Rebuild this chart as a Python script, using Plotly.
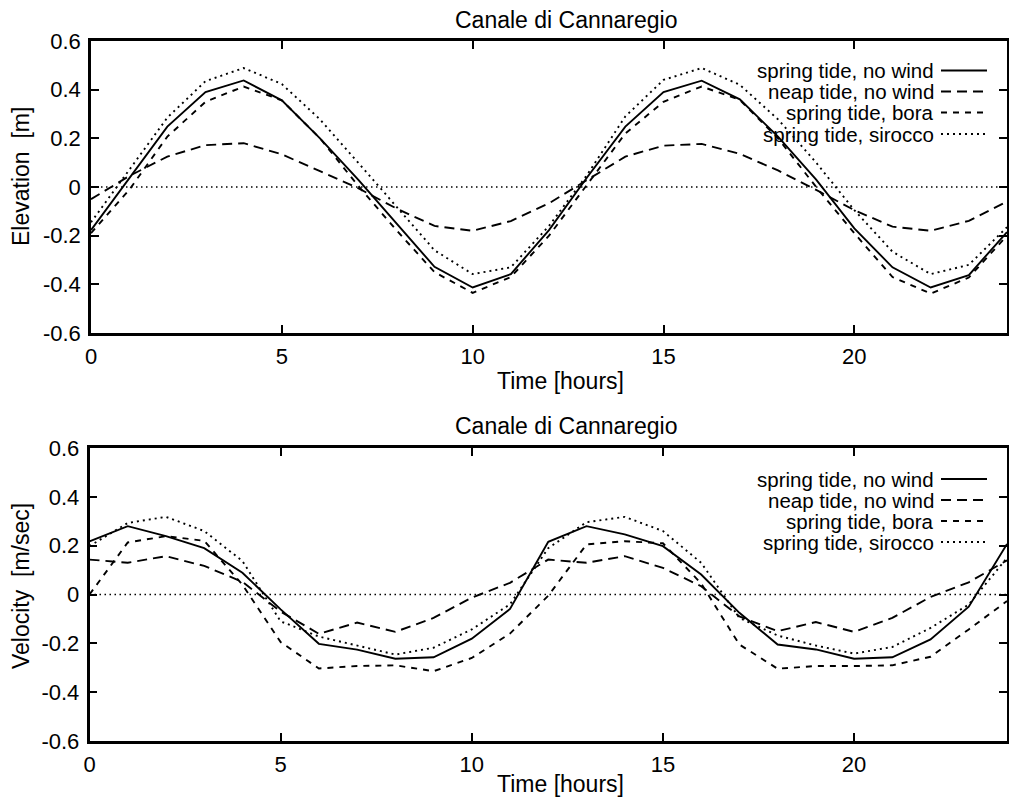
import plotly.graph_objects as go

W, H = 1009, 800

hours = list(range(25))
series_names = ["spring tide, no wind", "neap tide, no wind", "spring tide, bora", "spring tide, sirocco"]

# Elevation [m]
elev_spring_nowind = [-0.177, 0.036, 0.248, 0.39, 0.438, 0.356, 0.2, 0.03, -0.15, -0.328, -0.413, -0.358, -0.177,
                      0.04, 0.248, 0.39, 0.437, 0.36, 0.207, 0.03, -0.17, -0.33, -0.413, -0.362, -0.185]
elev_neap_nowind = [-0.05, 0.045, 0.125, 0.172, 0.18, 0.134, 0.065, -0.005, -0.088, -0.16, -0.18, -0.14, -0.067,
                    0.03, 0.125, 0.17, 0.177, 0.136, 0.068, -0.012, -0.095, -0.163, -0.18, -0.139, -0.06]
elev_spring_bora = [-0.19, -0.012, 0.207, 0.35, 0.413, 0.356, 0.2, 0.005, -0.177, -0.35, -0.435, -0.37, -0.2,
                    0.01, 0.22, 0.35, 0.413, 0.358, 0.2, 0.0, -0.19, -0.37, -0.438, -0.372, -0.2]
elev_spring_sirocco = [-0.145, 0.07, 0.285, 0.435, 0.489, 0.423, 0.278, 0.1, -0.08, -0.26, -0.358, -0.33, -0.16,
                       0.05, 0.29, 0.44, 0.489, 0.42, 0.278, 0.1, -0.095, -0.266, -0.358, -0.32, -0.165]

# Velocity [m/sec]
vel_spring_nowind = [0.218, 0.28, 0.239, 0.19, 0.089, -0.061, -0.202, -0.226, -0.263, -0.257, -0.181, -0.059, 0.216,
                     0.28, 0.246, 0.198, 0.082, -0.075, -0.205, -0.225, -0.263, -0.257, -0.184, -0.05, 0.207]
vel_neap_nowind = [0.143, 0.13, 0.157, 0.117, 0.052, -0.07, -0.161, -0.115, -0.153, -0.096, -0.013, 0.048, 0.143,
                   0.13, 0.157, 0.109, 0.034, -0.09, -0.15, -0.113, -0.153, -0.096, -0.01, 0.05, 0.14]
vel_spring_bora = [0.0, 0.213, 0.239, 0.22, 0.04, -0.195, -0.303, -0.293, -0.29, -0.314, -0.26, -0.16, -0.005,
                   0.205, 0.218, 0.21, 0.045, -0.205, -0.304, -0.293, -0.293, -0.29, -0.255, -0.143, -0.027]
vel_spring_sirocco = [0.198, 0.293, 0.318, 0.26, 0.137, -0.11, -0.172, -0.21, -0.246, -0.218, -0.143, -0.04, 0.19,
                      0.296, 0.318, 0.26, 0.13, -0.096, -0.168, -0.209, -0.242, -0.215, -0.137, -0.041, 0.15]

x_tickvals = [0, 5, 10, 15, 20]
x_ticktext = ["0", "5", "10", "15", "20"]
y_tickvals = [-0.6, -0.4, -0.2, 0, 0.2, 0.4, 0.6]
y_ticktext = ["-0.6", "-0.4", "-0.2", "0", "0.2", "0.4", "0.6"]

plot_title = "Canale di Cannaregio"
x_title = "Time [hours]"
y_title_top = "Elevation\u00a0 [m]"
y_title_bottom = "Velocity\u00a0 [m/sec]"

FONT = "Liberation Sans, Arial, Helvetica, sans-serif"
dashes = ["solid", "10px,6px", "6px,6px", "2px,4px"]
LW = 1.9

top_series = [elev_spring_nowind, elev_neap_nowind, elev_spring_bora, elev_spring_sirocco]
bot_series = [vel_spring_nowind, vel_neap_nowind, vel_spring_bora, vel_spring_sirocco]

fig = go.Figure()
for name, ys, d in zip(series_names, top_series, dashes):
    fig.add_trace(go.Scatter(x=hours, y=ys, mode="lines", name=name, showlegend=False,
                             line=dict(color="black", width=LW, dash=d), xaxis="x", yaxis="y"))
for name, ys, d in zip(series_names, bot_series, dashes):
    fig.add_trace(go.Scatter(x=hours, y=ys, mode="lines", name=name, showlegend=False,
                             line=dict(color="black", width=LW, dash=d), xaxis="x2", yaxis="y2"))

def px(v):
    return v / W

def py(v):
    return 1 - v / H

common_x = dict(range=[0, 24], tickvals=x_tickvals, ticktext=x_ticktext, ticks="inside", ticklen=8,
                tickwidth=2, tickcolor="black", mirror="ticks", showline=True, linewidth=2.5,
                linecolor="black", showgrid=False, zeroline=False, automargin=False,
                ticklabelstandoff=2,
                tickfont=dict(family=FONT, size=22, color="black"))
common_y = dict(range=[-0.6, 0.6], tickvals=y_tickvals, ticktext=y_ticktext, ticks="inside", ticklen=8,
                tickwidth=2, tickcolor="black", mirror="ticks", showline=True, linewidth=2.5,
                linecolor="black", showgrid=False, zeroline=False, automargin=False,
                ticklabelstandoff=3,
                tickfont=dict(family=FONT, size=22, color="black"))

fig.update_layout(
    width=W, height=H, margin=dict(l=0, r=0, t=0, b=0, autoexpand=False),
    paper_bgcolor="white", plot_bgcolor="white", showlegend=False,
    xaxis=dict(common_x, domain=[px(91), px(1007)], anchor="y"),
    yaxis=dict(common_y, domain=[py(333), py(41)], anchor="x"),
    xaxis2=dict(common_x, domain=[px(89.5), px(1007)], anchor="y2"),
    yaxis2=dict(common_y, domain=[py(741), py(448)], anchor="x2"),
)

shapes = []
annotations = []
# dotted zero axis lines
for yref, xref in [("y", "x domain"), ("y2", "x2 domain")]:
    shapes.append(dict(type="line", xref=xref, yref=yref, x0=0, x1=1, y0=0, y1=0,
                       line=dict(color="black", width=1.3, dash="1.5px,3.5px"), layer="below"))

def txt(text, x, y, size, angle=0, xanchor="center"):
    annotations.append(dict(text=text, x=px(x), y=py(y), xref="paper", yref="paper", showarrow=False,
                            xanchor=xanchor, yanchor="middle", textangle=angle, borderpad=0,
                            font=dict(family=FONT, size=size, color="black")))

# titles
txt(plot_title, 566, 20, 23)
txt(plot_title, 566, 426, 23)
txt(x_title, 560, 381, 23)
txt(x_title, 560, 784, 23)
txt(y_title_top, 21, 177, 23, angle=-90)
txt(y_title_bottom, 21, 586, 23, angle=-90)

# legends (text on left, sample on right)
for rows in ([70.5, 91.5, 112.5, 134], [479, 500, 521, 542]):
    for name, d, yy in zip(series_names, dashes, rows):
        txt(name, 935, yy, 20.5, xanchor="right")
        shapes.append(dict(type="line", xref="paper", yref="paper", x0=px(941), x1=px(987),
                           y0=py(yy), y1=py(yy), line=dict(color="black", width=LW, dash=d)))

fig.update_layout(shapes=shapes, annotations=annotations)
fig.write_html("out.html")
